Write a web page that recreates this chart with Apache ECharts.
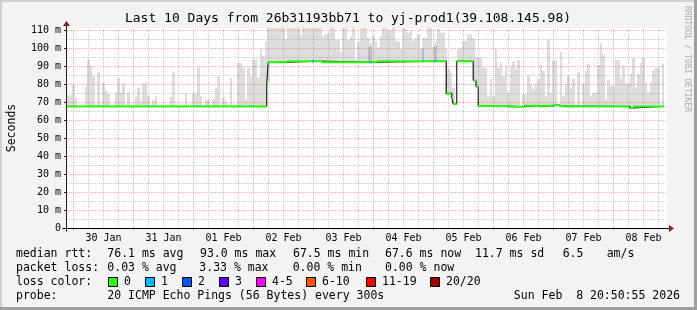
<!DOCTYPE html>
<html><head><meta charset="utf-8">
<script src="https://cdn.jsdelivr.net/npm/echarts@6/dist/echarts.min.js"></script>
<style>
html,body{margin:0;padding:0;background:#f3f3f3;}
#c{width:697px;height:310px;}
</style></head><body><div id="c"></div>
<script>
// ---------- DATA (hours are counted from 29 Jan 00:00) ----------
const plotStartHour = 21.4;
const plotEndHour = 261.4;
const dataEndHour = 260.2;

const dayStartHours = [24, 48, 72, 96, 120, 144, 168, 192, 216, 240];
const quarterDayHours = [30, 36, 42, 54, 60, 66, 78, 84, 90, 102, 108, 114, 126, 132, 138,
  150, 156, 162, 174, 180, 186, 198, 204, 210, 222, 228, 234, 246, 252, 258];
const dayLabelHours = [36, 60, 84, 108, 132, 156, 180, 204, 228, 252];
const dayLabels = ['30 Jan', '31 Jan', '01 Feb', '02 Feb', '03 Feb', '04 Feb', '05 Feb', '06 Feb', '07 Feb', '08 Feb'];

const yTickValues = [0, 10, 20, 30, 40, 50, 60, 70, 80, 90, 100, 110];
const yTickLabels = ['0', '10 m', '20 m', '30 m', '40 m', '50 m', '60 m', '70 m', '80 m', '90 m', '100 m', '110 m'];
const yMaxMs = 111.5;

// smoke top (ms), one value per hour bin starting at plotStartHour
const smokeTopMs = [
  74, 74, 80, 72.5, 68, 68, 68, 79, 94, 90,
  84.5, 68, 87, 68, 81, 76.4, 74.6, 68, 68, 75.7,
  83.6, 75.5, 80.7, 68, 75.7, 68, 68, 73.3, 78.2, 71,
  80.6, 80.6, 73.6, 68, 71.2, 73.6, 68, 68, 68, 68,
  68, 73, 87, 68, 68, 68, 68, 75.2, 68, 68,
  75.2, 75, 89.5, 73.6, 68, 71.7, 71.7, 68, 71.7, 78,
  84.5, 68, 73, 70.7, 68, 83.6, 68, 68, 92, 92,
  89.5, 71.7, 89.5, 84.5, 93.8, 93.8, 84, 100, 96, 104,
  111.5, 111.5, 111.5, 111.5, 111.5, 111.5, 111.5, 105.2, 111.5, 111.5,
  111.5, 111.5, 111.5, 107.7, 111.5, 111.5, 111.5, 111.5, 111.5, 111.5,
  111.5, 111.5, 107.2, 108, 109, 111.5, 111.5, 105, 105, 98,
  111.5, 111.5, 104.5, 107, 111.5, 94, 104, 111.5, 111.5, 111.5,
  106, 103, 107, 104, 100.7, 107, 111.5, 111.5, 110, 110,
  111.5, 104.4, 104, 99.8, 111.5, 111, 109, 110, 104.4, 106,
  108, 99.8, 106, 106, 111.5, 111.5, 100.7, 104, 110.9, 109,
  109, 100, 89, 86.6, 78, 69.5, 99.6, 100.5, 104.2, 104.2,
  108, 108, 106, 95, 95, 95, 89.4, 89.4, 73.5, 83,
  73.5, 99.6, 89.4, 92, 84.7, 90, 75.4, 90, 93, 88.4,
  93.7, 68, 74.6, 74.6, 85.2, 80.2, 77.4, 80.6, 83, 90.8,
  87.6, 73.6, 104.8, 75.2, 93.3, 93.3, 68, 98.2, 73.6, 80.2,
  84.9, 78, 83, 68, 87, 68, 80.6, 87.6, 91.4, 73.6,
  75.5, 75.5, 91, 103, 96.8, 71.7, 82.3, 79.2, 79.2, 93.8,
  93.8, 83.6, 90.4, 80.6, 80.6, 85.8, 95, 78.8, 85.8, 92.3,
  95, 80.6, 75.5, 81, 88, 89.5, 89.5, 68, 91.7
];

// darker smoke bands
const darkFrom = [141.8, 163.4, 168.1];
const darkTo = [143.4, 164.2, 169.4];
const darkTopMs = [101, 100.4, 101.4];

// median rtt: change points
const medianHours = [21.4, 101.3, 101.9, 109.3, 123.4, 145.3, 173.1, 174.3, 175.3, 175.9, 177.3,
  183.9, 185.0, 185.9, 197.4, 204.2, 210.2, 211.4, 216.2, 218.2, 219.8, 246.2, 247.8];
const medianMs = [67.8, 81.5, 92.4, 93.0, 92.4, 93.0, 74.8, 75.4, 72.6, 69.1, 93.0,
  82.3, 78.8, 68.0, 67.6, 68.2, 67.7, 68.2, 68.6, 68.0, 67.8, 66.9, 67.8];

// packet loss episodes (loss level index)
const lossFrom = [119.4, 142.3, 163.3, 168.2, 215.4];
const lossTo = [120.2, 143.3, 163.9, 169.3, 216.3];
const lossLevel = [1, 1, 1, 1, 1];

const lossLabels = ['0', '1', '2', '3', '4-5', '6-10', '11-19', '20/20'];
const lossColors = ['#26ff00', '#00b8ff', '#0059ff', '#5e00ff', '#ff00ff', '#ff5500', '#ff0000', '#a10000'];

const titleText = 'Last 10 Days from 26b31193bb71 to yj-prod1(39.108.145.98)';
const rttStats = ['76.1 ms avg', '93.0 ms max', '67.5 ms min', '67.6 ms now', '11.7 ms sd', '6.5', 'am/s'];
const lossStats = ['0.03 % avg', '3.33 % max', '0.00 % min', '0.00 % now'];
const probeText = '20 ICMP Echo Pings (56 Bytes) every 300s';
const dateText = 'Sun Feb  8 20:50:55 2026';

// ---------- BUILD ----------
const FONT = 'DejaVu Sans Mono';
function medianAt(t) {
  let v = medianMs[0];
  for (let k = 0; k < medianHours.length; k++) if (medianHours[k] <= t + 1e-9) v = medianMs[k];
  return v;
}
function medianMinIn(a, b) {
  let m = medianAt(a);
  medianHours.forEach((h, k) => { if (h > a && h < b) m = Math.min(m, medianMs[k]); });
  return m;
}
const smokeData = smokeTopMs.map((top, i) => {
  const s = plotStartHour + i;
  const e = Math.min(plotStartHour + i + 1, dataEndHour);
  const b = medianMinIn(s, e);
  return [s, e, b, Math.max(b, top)];
});
const darkData = darkFrom.map((f, k) => [f, darkTo[k], medianAt(f), darkTopMs[k]]);

const medianStep = medianHours.map((h, k) => [h, medianMs[k]]);
medianStep.push([dataEndHour, medianMs[medianMs.length - 1]]);
const greenSegs = [];
medianHours.forEach((h, k) => {
  const e = k + 1 < medianHours.length ? medianHours[k + 1] : dataEndHour;
  greenSegs.push([h, medianMs[k]], [e, medianMs[k]], [e, '-']);
});
const lossSeries = [];
[...new Set(lossLevel)].forEach(lv => {
  const d = [];
  lossFrom.forEach((f, k) => {
    if (lossLevel[k] !== lv) return;
    const v = medianAt(f);
    d.push([f, v], [lossTo[k], v], [lossTo[k], '-']);
  });
  lossSeries.push({
    type: 'line', data: d, z: 4, symbol: 'none', silent: true, connectNulls: false,
    lineStyle: { color: lossColors[lv], width: 2 }
  });
});

function snap(v) { return Math.round(v + 0.01); }
function rectRenderer(fill) {
  return (params, api) => {
    const p1 = api.coord([api.value(0), api.value(3)]);
    const p2 = api.coord([api.value(1), api.value(2)]);
    const x1 = snap(p1[0]), x2 = snap(p2[0]);
    return { type: 'rect', shape: { x: x1, y: p1[1], width: x2 - x1, height: p2[1] - p1[1] }, style: { fill: fill, stroke: null, lineWidth: 0 } };
  };
}

const gridLines = [];
quarterDayHours.forEach(h => gridLines.push({ xAxis: h, lineStyle: { color: 'rgba(143,143,143,0.46)', type: [1, 1], width: 1 } }));
dayStartHours.forEach(h => gridLines.push({ xAxis: h, lineStyle: { color: 'rgba(222,80,80,0.46)', type: [1, 1], width: 1 } }));

const chart = echarts.init(document.getElementById('c'), null, { renderer: 'canvas', width: 697, height: 310 });
chart.setOption({
  animation: false,
  backgroundColor: '#f3f3f3',
  textStyle: { fontFamily: FONT },
  grid: { left: 67, right: 30, top: 28, bottom: 82, show: true, backgroundColor: '#ffffff', borderWidth: 0,
    containLabel: false, outerBoundsMode: 'none' },
  xAxis: {
    type: 'value', min: plotStartHour, max: plotEndHour, z: 2,
    axisLine: { show: false },
    splitLine: { show: false },
    axisTick: { show: true, customValues: dayStartHours, length: 2, lineStyle: { color: 'rgba(222,80,80,0.8)' } },
    axisLabel: {
      customValues: dayLabelHours, margin: 5, fontSize: 10, color: '#000', fontFamily: FONT,
      formatter: v => { const k = dayLabelHours.indexOf(v); return k >= 0 ? dayLabels[k] : ''; }
    }
  },
  yAxis: {
    type: 'value', min: 0, max: yMaxMs, interval: 10, z: 2,
    name: 'Seconds', nameLocation: 'middle', nameGap: 49,
    nameTextStyle: { fontSize: 11.5, color: '#000', fontFamily: FONT },
    axisLine: { show: false },
    axisTick: { show: true, length: 3, lineStyle: { color: '#1f1f1f' } },
    axisLabel: {
      margin: 6, fontSize: 10, color: '#000', fontFamily: FONT, showMaxLabel: false,
      formatter: v => { const k = yTickValues.indexOf(v); return k >= 0 ? yTickLabels[k] : ''; }
    },
    splitLine: { show: true, showMaxLine: false, lineStyle: { color: 'rgba(222,80,80,0.46)', type: [1, 1], width: 1 } },
    minorTick: { show: false, splitNumber: 2 },
    minorSplitLine: { show: true, lineStyle: { color: 'rgba(143,143,143,0.46)', type: [1, 1], width: 1 } }
  },
  series: [
    { type: 'custom', data: smokeData, z: 1, silent: true, encode: { x: [0, 1], y: [2, 3] },
      renderItem: rectRenderer('#dddddd') },
    { type: 'custom', data: darkData, z: 1, silent: true, encode: { x: [0, 1], y: [2, 3] },
      renderItem: rectRenderer('#bcbcbc') },
    { type: 'line', data: [], z: 2, silent: true,
      markLine: { silent: true, symbol: ['none', 'none'], label: { show: false }, animation: false, data: gridLines } },
    { type: 'line', data: medianStep, step: 'end', symbol: 'none', silent: true, z: 3,
      lineStyle: { color: '#000000', width: 1 } },
    { type: 'line', data: greenSegs, symbol: 'none', silent: true, z: 4, connectNulls: false,
      lineStyle: { color: lossColors[0], width: 2 } },
    ...lossSeries
  ]
});

// ---------- decorations: axes, arrows, frame, texts ----------
const o = chart.convertToPixel({ gridIndex: 0 }, [plotStartHour, 0]);
const xe = chart.convertToPixel({ gridIndex: 0 }, [plotEndHour, 0]);
const yt = chart.convertToPixel({ gridIndex: 0 }, [plotStartHour, yMaxMs]);
const ax = Math.round(o[0]) - 0.5, ay = Math.round(o[1]) + 0.5;
const arrowColor = '#7f1f1f';
const g = [];
g.push({ type: 'line', z: 10, silent: true, shape: { x1: ax - 4, y1: ay, x2: xe[0] + 2, y2: ay }, style: { stroke: '#000', lineWidth: 1 } });
g.push({ type: 'line', z: 10, silent: true, shape: { x1: ax, y1: ay + 3, x2: ax, y2: yt[1] - 2 }, style: { stroke: '#1f1f1f', lineWidth: 1 } });
g.push({ type: 'polygon', z: 10, silent: true, shape: { points: [[xe[0] + 2, ay - 3.5], [xe[0] + 2, ay + 3.5], [xe[0] + 7, ay]] }, style: { fill: arrowColor } });
g.push({ type: 'polygon', z: 10, silent: true, shape: { points: [[ax - 3.5, yt[1] - 2], [ax + 3.5, yt[1] - 2], [ax, yt[1] - 7]] }, style: { fill: arrowColor } });
// frame
g.push({ type: 'rect', z: 10, silent: true, shape: { x: 0, y: 0, width: 697, height: 2 }, style: { fill: '#cfcfcf' } });
g.push({ type: 'rect', z: 10, silent: true, shape: { x: 0, y: 0, width: 2, height: 310 }, style: { fill: '#cfcfcf' } });
g.push({ type: 'rect', z: 10, silent: true, shape: { x: 0, y: 307, width: 697, height: 3 }, style: { fill: '#9e9e9e' } });
g.push({ type: 'rect', z: 10, silent: true, shape: { x: 694, y: 0, width: 3, height: 310 }, style: { fill: '#9e9e9e' } });
// title
g.push({ type: 'text', z: 10, silent: true, x: 348, y: 19, style: { text: titleText, font: '13px ' + FONT, fill: '#000', align: 'center', verticalAlign: 'middle' } });
g.push({ type: 'text', z: 10, silent: true, x: 687, y: 59, rotation: -Math.PI / 2, style: { text: 'RRDTOOL / TOBI OETIKER', font: '8px ' + FONT, fill: '#a8a8a8', align: 'center', verticalAlign: 'middle' } });
function txt(s, x, y, align) {
  g.push({ type: 'text', z: 10, silent: true, x: x, y: y, style: { text: s, font: '11.5px ' + FONT, fill: '#000', align: align || 'left', verticalAlign: 'middle' } });
}
const rowY = [254, 268, 282, 296];
txt('median rtt:', 16, rowY[0]);
[107.3, 200, 293, 385, 475, 562.7, 606.7].forEach((x, k) => txt(rttStats[k], x, rowY[0]));
txt('packet loss:', 16, rowY[1]);
[107.3, 199.3, 292.7, 385].forEach((x, k) => txt(lossStats[k], x, rowY[1]));
txt('loss color:', 16, rowY[2]);
[108.5, 145.5, 182.5, 219.5, 256.5, 306.5, 366.5, 430.5].forEach((x, k) => {
  g.push({ type: 'rect', z: 10, silent: true, shape: { x: x, y: rowY[2] - 4.5, width: 9, height: 9 }, style: { fill: lossColors[k], stroke: '#000', lineWidth: 1 } });
  txt(lossLabels[k], x + 15.5, rowY[2]);
});
txt('probe:', 16, rowY[3]);
txt(probeText, 107.3, rowY[3]);
txt(dateText, 680, rowY[3], 'right');
chart.setOption({ graphic: g });
</script></body></html>
